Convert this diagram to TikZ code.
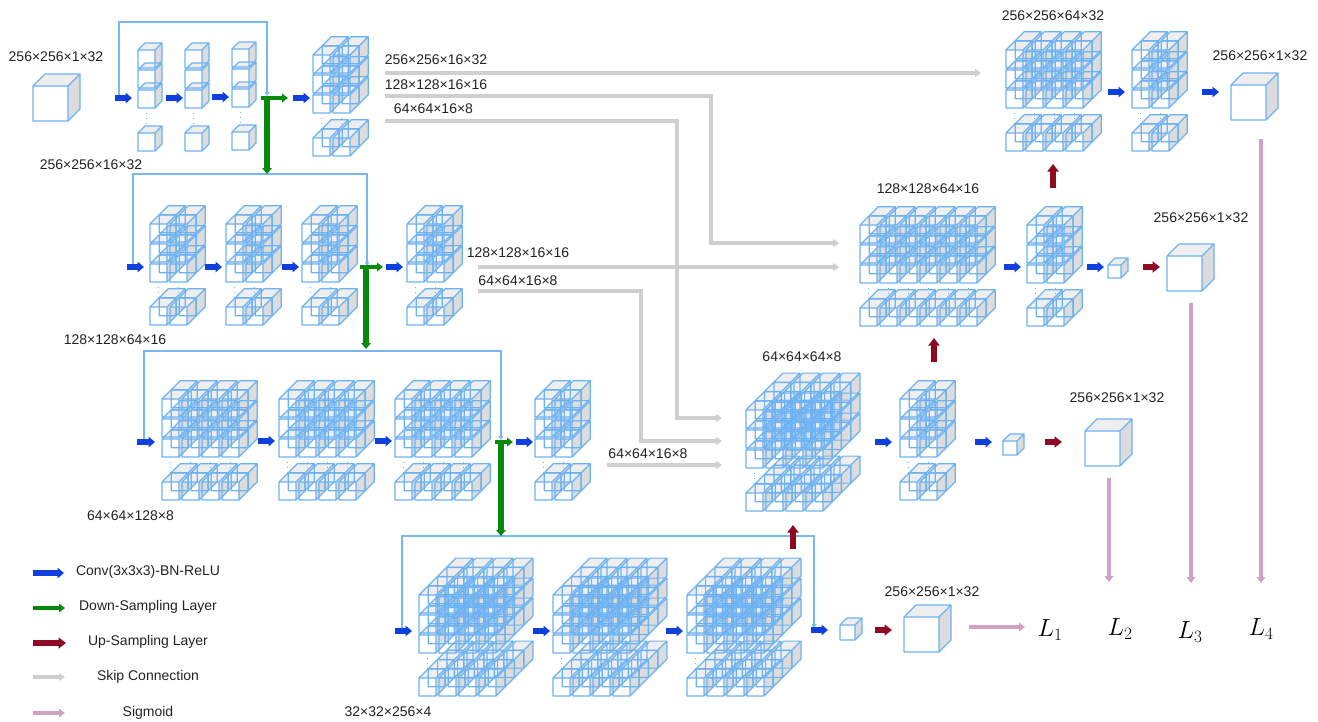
\documentclass[tikz,border=0pt]{standalone}
\usepackage{fontspec}
\setmainfont{Liberation Sans}
\usetikzlibrary{arrows.meta}
\definecolor{cubeline}{HTML}{6DB2F2}
\definecolor{frameline}{HTML}{78B8F2}
\definecolor{cubeside}{HTML}{DCDCDC}
\definecolor{cubetop}{HTML}{EEEEEE}
\definecolor{convblue}{HTML}{0F3FDC}
\definecolor{downgreen}{HTML}{078A0C}
\definecolor{upred}{HTML}{8C0A22}
\definecolor{skipgray}{HTML}{CFCFCF}
\definecolor{sigpurple}{HTML}{CFA2C4}
\definecolor{labeltext}{HTML}{222222}
\tikzset{
  cubeedge/.style={draw=cubeline,line width=1.2pt,line join=round},
  conv/.style={draw=convblue,line width=5.4pt,-{Triangle[length=6.5pt,width=10.5pt]}},
  down/.style={draw=downgreen,line width=4.6pt,-{Triangle[length=6pt,width=8.5pt]}},
  downv/.style={draw=downgreen,line width=5.4pt,-{Triangle[length=6pt,width=9.5pt]}},
  upsamp/.style={draw=upred,line width=5.2pt,-{Triangle[length=7.5pt,width=11pt]}},
  skipc/.style={draw=skipgray,line width=4.2pt,-{Triangle[length=6pt,width=8pt]}},
  sigm/.style={draw=sigpurple,line width=4.6pt,-{Triangle[length=6pt,width=8.5pt]}},
  frame/.style={draw=frameline,line width=1.1pt,-{Triangle[length=4pt,width=4.5pt]}},
  lab/.style={text=labeltext,inner sep=0pt,font=\fontsize{14}{15}\selectfont},
  leg/.style={text=labeltext,inner sep=0pt,font=\fontsize{14}{15}\selectfont},
  loss/.style={inner sep=0pt,font=\fontsize{24}{26}\selectfont},
  dotsv/.style={draw=cubeline,line width=1pt,dash pattern=on 1pt off 4pt},
}
% faces of a cube: left, bottom of the front face, width, height, depth
\newcommand{\cubefaces}[5]{%
  \fill[cubeside]
    ({#1+#3},{#2}) -- ({#1+#3+#5},{#2-#5}) -- ({#1+#3+#5},{#2-#4-#5}) -- ({#1+#3},{#2-#4}) -- cycle;
  \fill[cubetop]
    ({#1},{#2-#4}) -- ({#1+#5},{#2-#4-#5}) -- ({#1+#3+#5},{#2-#4-#5}) -- ({#1+#3},{#2-#4}) -- cycle;
}
% visible edges of a cube
\newcommand{\cubewire}[5]{%
  \path[cubeedge]
    ({#1},{#2-#4}) rectangle ({#1+#3},{#2})
    ({#1},{#2-#4}) -- ({#1+#5},{#2-#4-#5}) -- ({#1+#3+#5},{#2-#4-#5}) -- ({#1+#3+#5},{#2-#5}) -- ({#1+#3},{#2})
    ({#1+#3},{#2-#4}) -- ({#1+#3+#5},{#2-#4-#5});
}
\newcommand{\onecube}[5]{\cubefaces{#1}{#2}{#3}{#4}{#5}\cubewire{#1}{#2}{#3}{#4}{#5}}
% block: left, bottom, columns, depth layers
\newcommand{\cubeblock}[4]{%
  \pgfmathtruncatemacro{\lastd}{#4-1}
  \pgfmathtruncatemacro{\lastc}{#3-1}
  \pgfmathsetmacro{\cubed}{#4==1?7:9}
  \foreach \dd in {\lastd,...,0}{
    \foreach \rr in {83,63,43,0}{
      \foreach \cc in {0,...,\lastc}{
        \pgfmathsetmacro{\cx}{#1+20*\cc+9.3*\dd}
        \pgfmathsetmacro{\cy}{#2-\rr-9.3*\dd}
        \cubefaces{\cx}{\cy}{17}{18}{\cubed}
      }
    }
  }
  \foreach \dd in {\lastd,...,0}{
    \foreach \rr in {83,63,43,0}{
      \foreach \cc in {0,...,\lastc}{
        \pgfmathsetmacro{\cx}{#1+20*\cc+9.3*\dd}
        \pgfmathsetmacro{\cy}{#2-\rr-9.3*\dd}
        \cubewire{\cx}{\cy}{17}{18}{\cubed}
      }
    }
  }
  \foreach \cc in {0,...,\lastc}{
    \path[dotsv] ({#1+8+20*\cc},{#2-38}) -- ({#1+8+20*\cc},{#2-27});
  }
}
% arrow between two named coordinates
\newcommand{\conn}[4]{%
  \coordinate (#2-s) at (#3);
  \coordinate (#2-e) at (#4);
  \draw[#1] (#2-s) -- (#2-e);
}
\begin{document}
\begin{tikzpicture}[x=1pt,y=-1pt]
\useasboundingbox (0,0) rectangle (1318,721);
% encoder level 1
\onecube{33}{121}{35}{35}{12}
\cubeblock{138}{151}{1}{1}
\cubeblock{185}{151}{1}{1}
\cubeblock{232}{150}{1}{1}
\cubeblock{313}{156}{2}{2}
% level 2
\cubeblock{150}{325}{2}{2}
\cubeblock{226}{325}{2}{2}
\cubeblock{302}{325}{2}{2}
\cubeblock{407}{325}{2}{2}
% level 3
\cubeblock{162}{500}{4}{2}
\cubeblock{279}{500}{4}{2}
\cubeblock{395}{500}{4}{2}
\cubeblock{535}{500}{2}{2}
% level 4
\cubeblock{419}{696}{4}{4}
\cubeblock{553}{696}{4}{4}
\cubeblock{687}{696}{4}{4}
\onecube{840}{640}{15}{15}{7}
\onecube{904}{652}{35}{35}{12}
% decoder level 3
\cubeblock{746}{511}{4}{4}
\cubeblock{900}{500}{2}{2}
\onecube{1003}{455}{14}{14}{7}
\onecube{1085}{466}{35}{35}{12}
% decoder level 2
\cubeblock{860}{326}{6}{2}
\cubeblock{1027}{326}{2}{2}
\onecube{1108}{278}{13}{13}{7}
\onecube{1167}{291}{35}{35}{12}
% decoder level 1
\cubeblock{1006}{151}{4}{2}
\cubeblock{1132}{151}{2}{2}
\onecube{1231}{120}{35}{35}{12}

% frames
\coordinate (fa1) at (119,95); \coordinate (fa2) at (119,22); \coordinate (fa3) at (267,22); \coordinate (fa4) at (267,96);
\draw[frame] (fa1) -- (fa2) -- (fa3) -- (fa4);
\coordinate (fb1) at (133,265); \coordinate (fb2) at (133,174); \coordinate (fb3) at (367,174); \coordinate (fb4) at (367,266);
\draw[frame] (fb1) -- (fb2) -- (fb3) -- (fb4);
\coordinate (fc1) at (144,440); \coordinate (fc2) at (144,351); \coordinate (fc3) at (501,351); \coordinate (fc4) at (501,440);
\draw[frame] (fc1) -- (fc2) -- (fc3) -- (fc4);
\coordinate (fd1) at (402,629); \coordinate (fd2) at (402,536); \coordinate (fd3) at (814,536); \coordinate (fd4) at (814,628);
\draw[frame] (fd1) -- (fd2) -- (fd3) -- (fd4);

% skip connections
\conn{skipc}{sa}{385,73}{981,73}
\coordinate (sb1) at (385,96); \coordinate (sb2) at (711,96); \coordinate (sb3) at (711,243); \coordinate (sb4) at (839,243);
\draw[skipc] (sb1) -- (sb2) -- (sb3) -- (sb4);
\coordinate (sc1) at (385,121); \coordinate (sc2) at (677,121); \coordinate (sc3) at (677,418); \coordinate (sc4) at (722,418);
\draw[skipc] (sc1) -- (sc2) -- (sc3) -- (sc4);
\conn{skipc}{sd}{478,267}{839,267}
\coordinate (se1) at (478,291); \coordinate (se2) at (641,291); \coordinate (se3) at (641,441); \coordinate (se4) at (722,441);
\draw[skipc] (se1) -- (se2) -- (se3) -- (se4);
\conn{skipc}{sf}{607,465}{722,465}

% convolution arrows
\conn{conv}{ca1}{115,98}{132,98}
\conn{conv}{ca2}{166,98}{183,98}
\conn{conv}{ca3}{212,97}{229,97}
\conn{conv}{ca4}{293,98}{310,98}
\conn{conv}{cb1}{127,267}{144,267}
\conn{conv}{cb2}{205,267}{222,267}
\conn{conv}{cb3}{282,267}{299,267}
\conn{conv}{cb4}{386,267}{403,267}
\conn{conv}{cc1}{137,442}{155,442}
\conn{conv}{cc2}{258,441}{275,441}
\conn{conv}{cc3}{375,441}{392,441}
\conn{conv}{cc4}{516,442}{533,442}
\conn{conv}{cd1}{395,631}{412,631}
\conn{conv}{cd2}{533,631}{550,631}
\conn{conv}{cd3}{666,631}{683,631}
\conn{conv}{cd4}{811,630}{828,630}
\conn{conv}{ce1}{1108,92}{1125,92}
\conn{conv}{ce2}{1202,92}{1219,92}
\conn{conv}{ce3}{1004,267}{1021,267}
\conn{conv}{ce4}{1087,267}{1104,267}
\conn{conv}{ce5}{875,442}{892,442}
\conn{conv}{ce6}{975,442}{992,442}

% down-sampling
\conn{down}{da}{261,98}{288,98}
\conn{downv}{dav}{267,98}{267,174}
\conn{down}{db}{360,267}{383,267}
\conn{downv}{dbv}{366,267}{366,349}
\conn{down}{dc}{495,442}{513,442}
\conn{downv}{dcv}{501,442}{501,536}

% up-sampling
\conn{upsamp}{ua}{1143,267}{1160,267}
\conn{upsamp}{ub}{1045,442}{1062,442}
\conn{upsamp}{uc}{875,630}{892,630}
\conn{upsamp}{ud}{1053,188}{1053,164}
\conn{upsamp}{ue}{934,362}{934,338}
\conn{upsamp}{uf}{793,549}{793,525}

% sigmoid
\conn{sigm}{pa}{1261,139}{1261,583}
\conn{sigm}{pb}{1191,303}{1191,583}
\conn{sigm}{pc}{1109,478}{1109,582}
\conn{sigm}{pd}{969,627}{1025,627}

% labels
\node[lab] (t1) at (56,57) {256×256×1×32};
\node[lab] (t2) at (91,165) {256×256×16×32};
\node[lab] (t3) at (115,340) {128×128×64×16};
\node[lab] (t4) at (130.5,516) {64×64×128×8};
\node[lab] (t5) at (388,712) {32×32×256×4};
\node[lab] (t6) at (436,60) {256×256×16×32};
\node[lab] (t7) at (436,85) {128×128×16×16};
\node[lab] (t8) at (433.5,109) {64×64×16×8};
\node[lab] (t9) at (518,253) {128×128×16×16};
\node[lab] (t10) at (518,281) {64×64×16×8};
\node[lab] (t11) at (648,454) {64×64×16×8};
\node[lab] (t12) at (1053,16) {256×256×64×32};
\node[lab] (t13) at (1260,56) {256×256×1×32};
\node[lab] (t14) at (928,189) {128×128×64×16};
\node[lab] (t15) at (1201,218) {256×256×1×32};
\node[lab] (t16) at (802,357) {64×64×64×8};
\node[lab] (t17) at (1117,398) {256×256×1×32};
\node[lab] (t18) at (932,592) {256×256×1×32};

% losses
\node[loss] (l1) at (1050,630) {$L_1$};
\node[loss] (l2) at (1120,629) {$L_2$};
\node[loss] (l3) at (1190,632) {$L_3$};
\node[loss] (l4) at (1261,629) {$L_4$};

% legend
\conn{conv}{lg1}{33,573}{64,573}
\conn{down}{lg2}{33,608}{65,608}
\conn{upsamp}{lg3}{33,643}{66,643}
\conn{skipc}{lg4}{33,677}{65,677}
\conn{sigm}{lg5}{33,713}{65,713}
\node[leg] (n1) at (148,572) {Conv(3x3x3)-BN-ReLU};
\node[leg] (n2) at (148,607) {Down-Sampling Layer};
\node[leg] (n3) at (148,642) {Up-Sampling Layer};
\node[leg] (n4) at (148,677) {Skip Connection};
\node[leg] (n5) at (148,713) {Sigmoid};
\end{tikzpicture}
\end{document}
